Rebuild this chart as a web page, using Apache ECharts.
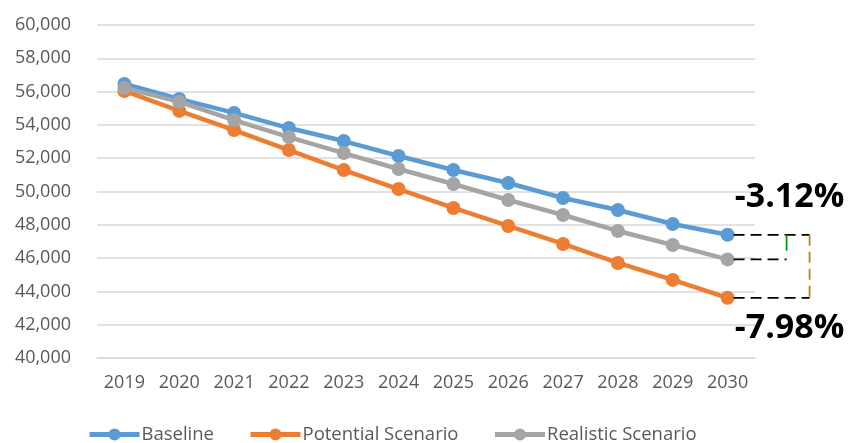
<!DOCTYPE html>
<html>
<head>
<meta charset="utf-8">
<script src="https://cdn.jsdelivr.net/npm/echarts@6/dist/echarts.min.js"></script>
<style>
  html, body { margin: 0; padding: 0; background: #ffffff; }
  #chart { width: 850px; height: 443px; }
</style>
</head>
<body>
<div id="chart"></div>
<script>
// Projection years and the three scenario series
const years = ['2019', '2020', '2021', '2022', '2023', '2024', '2025', '2026', '2027', '2028', '2029', '2030'];
const baseline  = [56460, 55560, 54720, 53810, 53030, 52130, 51290, 50510, 49610, 48890, 48050, 47400];
const potential = [56040, 54840, 53690, 52490, 51290, 50150, 49010, 47930, 46850, 45710, 44690, 43617];
const realistic = [56220, 55380, 54290, 53270, 52310, 51350, 50450, 49490, 48590, 47630, 46790, 45921];
const seriesNames = ['Baseline', 'Potential Scenario', 'Realistic Scenario'];
const seriesColors = ['#5B9BD5', '#ED7D31', '#A5A5A5'];
// Gap labels at the final year, relative to the baseline
const gapRealistic = '-3.12%';
const gapPotential = '-7.98%';

const FONT = 'Open Sans';
const chart = echarts.init(document.getElementById('chart'), null, { renderer: 'canvas' });

function lineSeries(name, data, color) {
  return {
    name: name,
    type: 'line',
    data: data,
    symbol: 'circle',
    symbolSize: 14,
    lineStyle: { width: 4.5, color: color },
    itemStyle: { color: color },
    z: 3,
    animation: false
  };
}

chart.setOption({
  animation: false,
  grid: { left: 97, right: 95, top: 25, bottom: 85 },
  legend: {
    bottom: -6,
    left: 82,
    itemWidth: 50,
    itemHeight: 15,
    itemGap: 34,
    lineStyle: { width: 5 },
    textStyle: { fontFamily: FONT, fontSize: 18.5, color: '#595959', padding: [0, 0, 0, -3] },
    data: seriesNames
  },
  xAxis: {
    type: 'category',
    data: years,
    boundaryGap: true,
    axisLine: { show: true, lineStyle: { color: '#D9D9D9', width: 1.5 } },
    axisTick: { show: false },
    axisLabel: { fontFamily: FONT, fontSize: 18, color: '#595959', margin: 16 }
  },
  yAxis: {
    type: 'value',
    min: 40000,
    max: 60000,
    interval: 2000,
    axisLine: { show: false },
    axisTick: { show: false },
    splitLine: { lineStyle: { color: '#D9D9D9', width: 1.5 } },
    axisLabel: {
      fontFamily: FONT, fontSize: 18, color: '#595959', margin: 26,
      formatter: v => v.toLocaleString('en-US')
    }
  },
  series: [
    lineSeries(seriesNames[0], baseline, seriesColors[0]),
    lineSeries(seriesNames[1], potential, seriesColors[1]),
    lineSeries(seriesNames[2], realistic, seriesColors[2])
  ]
});

// Bracket annotation comparing the final-year values
const last = years.length - 1;
const pB = chart.convertToPixel({ seriesIndex: 0 }, [last, baseline[last]]);
const pP = chart.convertToPixel({ seriesIndex: 1 }, [last, potential[last]]);
const pR = chart.convertToPixel({ seriesIndex: 2 }, [last, realistic[last]]);
const x0 = pB[0] + 6;
const xEnd = pB[0] + 82;
const xMid = pB[0] + 59;
const dash = { stroke: '#000000', lineWidth: 1.8, lineDash: [11, 6] };

chart.setOption({
  graphic: [
    { type: 'line', shape: { x1: x0, y1: pB[1], x2: xEnd, y2: pB[1] }, style: dash, z: 10 },
    { type: 'line', shape: { x1: x0, y1: pR[1], x2: xMid, y2: pR[1] }, style: dash, z: 10 },
    { type: 'line', shape: { x1: x0, y1: pP[1], x2: xEnd, y2: pP[1] }, style: dash, z: 10 },
    { type: 'line', shape: { x1: xMid, y1: pB[1], x2: xMid, y2: pB[1] + 16 },
      style: { stroke: '#00A000', lineWidth: 1.8 }, z: 10 },
    { type: 'line', shape: { x1: xEnd, y1: pB[1], x2: xEnd, y2: pP[1] },
      style: { stroke: '#B8860B', lineWidth: 1.8, lineDash: [11, 6] }, z: 10 },
    { type: 'text', x: pB[0] + 62, y: pB[1] - 37,
      style: { text: gapRealistic, fontFamily: FONT, fontWeight: 'bold', fontSize: 34,
               fill: '#000000', align: 'center', verticalAlign: 'middle' }, z: 11 },
    { type: 'text', x: pB[0] + 62, y: pP[1] + 31,
      style: { text: gapPotential, fontFamily: FONT, fontWeight: 'bold', fontSize: 34,
               fill: '#000000', align: 'center', verticalAlign: 'middle' }, z: 11 }
  ]
});
</script>
</body>
</html>
